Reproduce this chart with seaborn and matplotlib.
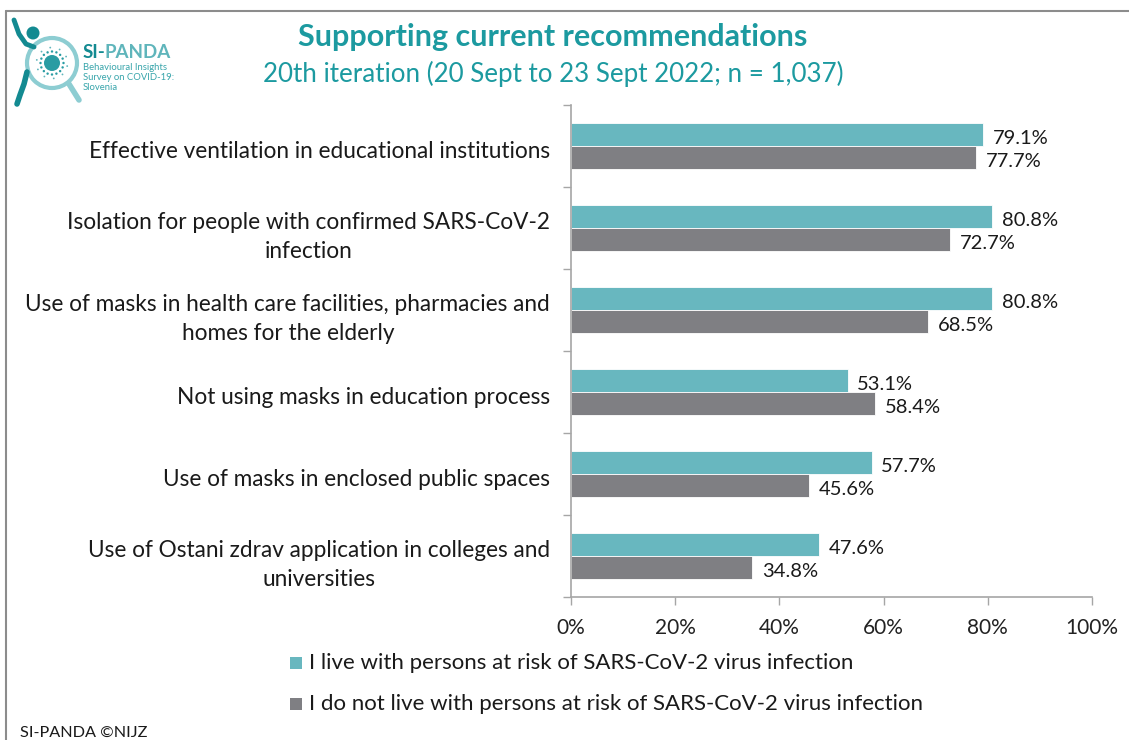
import matplotlib
matplotlib.use("Agg")
import matplotlib.pyplot as plt
import matplotlib.transforms as mtransforms
from matplotlib.patches import Circle, Rectangle
from matplotlib.lines import Line2D
import numpy as np
import pandas as pd
import seaborn as sns

categories = [
    "Effective ventilation in educational institutions",
    "Isolation for people with confirmed SARS-CoV-2\ninfection",
    "Use of masks in health care facilities, pharmacies and\nhomes for the elderly",
    "Not using masks in education process",
    "Use of masks in enclosed public spaces",
    "Use of Ostani zdrav application in colleges and\nuniversities",
]
series_names = [
    "I live with persons at risk of SARS-CoV-2 virus infection",
    "I do not live with persons at risk of SARS-CoV-2 virus infection",
]
at_risk = [79.1, 80.8, 80.8, 53.1, 57.7, 47.6]
not_at_risk = [77.7, 72.7, 68.5, 58.4, 45.6, 34.8]
x_ticks = [0, 20, 40, 60, 80, 100]

TEAL = "#68b7bf"
GREY = "#7f7f83"
TITLE = "#1c9aa0"
FONT = ["Lato", "DejaVu Sans"]

sns.set_theme(style="white")
plt.rcParams["font.family"] = FONT

df = pd.DataFrame({
    "category": categories * 2,
    "value": at_risk + not_at_risk,
    "group": [series_names[0]] * len(categories) + [series_names[1]] * len(categories),
})

W, H = 1129, 740
fig = plt.figure(figsize=(W / 100, H / 100), dpi=100)
fig.patch.set_facecolor("white")

ax = fig.add_axes([571 / W, 1 - 597 / H, (1092 - 571) / W, (597 - 105) / H])
sns.barplot(
    data=df, y="category", x="value", hue="group", orient="h",
    palette=[TEAL, GREY], width=0.56, ax=ax, legend=False,
    edgecolor="white", linewidth=0.6, saturation=1,
)

ax.set_xlim(0, 100)
ax.set_ylim(len(categories) - 0.5, -0.5)
ax.set_xlabel("")
ax.set_ylabel("")
ax.set_xticks(x_ticks)
ax.set_xticklabels([f"{t}%" for t in x_ticks], fontsize=15, color="#222222")
ax.tick_params(axis="x", length=6, width=1, color="#a6a6a6", pad=9, direction="out", bottom=True)

ax.set_yticks(range(len(categories)))
ax.set_yticklabels(categories, fontsize=16.3, color="#1a1a1a",
                   multialignment="center", linespacing=1.45)
ax.tick_params(axis="y", which="major", length=0, pad=15)
shift = mtransforms.ScaledTranslation(0, -3 / 100, fig.dpi_scale_trans)
for lbl in ax.get_yticklabels():
    lbl.set_transform(lbl.get_transform() + shift)
ax.set_yticks(np.arange(-0.5, len(categories)), minor=True)
ax.tick_params(axis="y", which="minor", length=6, width=1, color="#a6a6a6", direction="out", left=True)

for s in ["top", "right"]:
    ax.spines[s].set_visible(False)
for s in ["left", "bottom"]:
    ax.spines[s].set_color("#a6a6a6")
    ax.spines[s].set_linewidth(1.2)

for cont in ax.containers:
    anns = ax.bar_label(cont, labels=[f"{v:.1f}%" for v in cont.datavalues],
                        padding=7, fontsize=14.5, color="#1a1a1a")
    for a in anns:
        a.xyann = (7, -3)

# Titles
fig.text(553 / W, 1 - 37 / H, "Supporting current recommendations", ha="center", va="center",
         fontsize=22, fontweight="bold", color=TITLE)
fig.text(553 / W, 1 - 74 / H, "20th iteration (20 Sept to 23 Sept 2022; n = 1,037)", ha="center",
         va="center", fontsize=18.7, color=TITLE)

# Legend
for i, (name, col) in enumerate(zip(series_names, [TEAL, GREY])):
    yc = 663 + i * 41
    fig.patches.append(Rectangle((290 / W, 1 - (yc + 6) / H), 12 / W, 12 / H,
                                 transform=fig.transFigure, facecolor=col, edgecolor="none"))
    fig.text(309 / W, 1 - yc / H, name, ha="left", va="center", fontsize=16, color="#1a1a1a")

# Footer
fig.text(20 / W, 1 - 733 / H, "SI-PANDA ©NIJZ", ha="left", va="center", fontsize=11.7, color="#1a1a1a")

# Frame lines
fig.lines.append(Line2D([6 / W, 6 / W], [0, 1 - 11 / H], transform=fig.transFigure, color="#8c8c8c", lw=1.5))
fig.lines.append(Line2D([6 / W, 1], [1 - 11 / H, 1 - 11 / H], transform=fig.transFigure, color="#8c8c8c", lw=1.5))

# Logo
lax = fig.add_axes([0, 1 - 110 / H, 180 / W, 100 / H])
lax.set_xlim(0, 180)
lax.set_ylim(110, 10)
lax.set_aspect("equal")
lax.axis("off")
lax.add_patch(Circle((52, 63), 25, facecolor="none", edgecolor="#8dcdd2", lw=3))
lax.add_patch(Circle((52, 63), 8, facecolor="#2a9ca3", edgecolor="none"))
for a in np.linspace(0, 2 * np.pi, 16, endpoint=False):
    lax.add_patch(Circle((52 + 11.5 * np.cos(a), 63 + 11.5 * np.sin(a)), 1.2,
                         facecolor="#2a9ca3", edgecolor="none"))
for a in np.linspace(0.2, 2 * np.pi + 0.2, 10, endpoint=False):
    lax.add_patch(Circle((52 + 15.5 * np.cos(a), 63 + 15.5 * np.sin(a)), 0.9,
                         facecolor="#5fb5bb", edgecolor="none"))
lax.add_patch(Circle((33, 33), 6.5, facecolor="#138a91", edgecolor="none"))
lax.plot([14, 19, 26, 34], [20, 34, 44, 47], color="#138a91", lw=3.5, solid_capstyle="round")
lax.plot([27, 24, 20, 17], [72, 84, 95, 104], color="#138a91", lw=4, solid_capstyle="round")
lax.plot([69, 79], [84, 100], color="#8dcdd2", lw=4, solid_capstyle="round")
lax.text(83, 52, "SI-", fontsize=13.5, fontweight="bold", color="#138a91", va="center", ha="left")
lax.text(105, 52, "PANDA", fontsize=13.5, fontweight="bold", color="#5fb5bb", va="center", ha="left")
lax.text(83, 67, "Behavioural Insights", fontsize=6.8, color="#38a5ab", va="center", ha="left")
lax.text(83, 77.5, "Survey on COVID-19:", fontsize=6.8, color="#38a5ab", va="center", ha="left")
lax.text(83, 88, "Slovenia", fontsize=6.8, color="#38a5ab", va="center", ha="left")

fig.savefig("out.png", dpi=100, facecolor="white")
